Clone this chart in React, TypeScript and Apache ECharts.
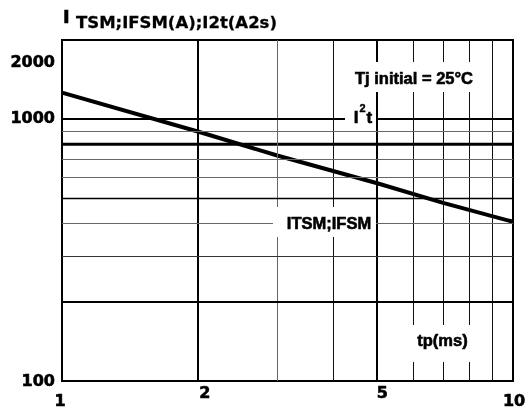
import React, { useEffect, useRef } from "react";
import * as echarts from "echarts";

// ---- data ----
const tpValues = [1, 2, 3, 5, 7, 10];
const itsmValues = [1260, 895, 725, 568, 478, 405];
const i2tTp = [1, 10];
const i2tValues = [800, 800];
const xTickLabels = [1, 2, 5, 10];
const yTickLabels = [100, 1000, 2000];
const xGridValues = [2, 3, 4, 5, 6, 7, 8, 9];
const yGridValues = [200, 300, 400, 500, 600, 700, 900, 1000];
const xMin = 1;
const xMax = 10;
const yMin = 100;
const yMax = 2000;

const NUM_FONT = 'bold 16px "DejaVu Sans"';
const LBL_FONT = 'bold 16.5px "Liberation Sans"';

function vLineStyle(v: number) {
  if (v === 2 || v === 5) return { color: "#000", width: 2, type: "solid" };
  if (v === 3) return { color: "#666", width: 1, type: "solid" };
  return { color: "#111", width: 1, type: "solid" };
}
function hLineStyle(v: number) {
  if (v === 200 || v === 1000) return { color: "#000", width: 2, type: "solid" };
  if (v === 500) return { color: "#000", width: 1.3, type: "solid" };
  if (v === 300) return { color: "#333", width: 1, type: "solid" };
  return { color: "#666", width: 1, type: "solid" };
}

// label offsets (layout only)
const xLabelOffset: Record<number, [number, number]> = {
  1: [-2, 19],
  2: [7, 11],
  5: [5, 11],
  10: [1, 19],
};
const yLabelOffset: Record<number, number> = { 100: -1, 1000: -1, 2000: 21 };

const heavy = { fill: "#000", stroke: "#000", lineWidth: 0.6 };

export default function App() {
  const ref = useRef<HTMLDivElement>(null);
  useEffect(() => {
    const chart = echarts.init(ref.current!, null, { renderer: "svg" });
    const hiddenAxis = {
      axisLine: { show: false },
      axisTick: { show: false },
      axisLabel: { show: false },
      splitLine: { show: false },
    };
    chart.setOption({
      animation: false,
      grid: {
        left: 62,
        right: 14,
        top: 40,
        bottom: 32,
        show: true,
        borderColor: "#000",
        borderWidth: 2,
        backgroundColor: "transparent",
        z: 5,
      },
      xAxis: { type: "log", logBase: 10, min: xMin, max: xMax, ...hiddenAxis },
      yAxis: { type: "log", logBase: 10, min: yMin, max: yMax, ...hiddenAxis },
      series: [
        {
          type: "line",
          name: "grid",
          data: [
            [xMin, yMin],
            [xMax, yMin],
          ],
          showSymbol: false,
          lineStyle: { width: 0, opacity: 0 },
          silent: true,
          z: 1,
          markLine: {
            silent: true,
            symbol: ["none", "none"],
            label: { show: false },
            animation: false,
            data: [
              ...xGridValues.map((v) => ({ xAxis: v, lineStyle: vLineStyle(v) })),
              ...yGridValues.map((v) => ({ yAxis: v, lineStyle: hLineStyle(v) })),
            ],
          },
        },
        {
          type: "line",
          name: "I2t",
          data: i2tTp.map((t, i) => [t, i2tValues[i]]),
          showSymbol: false,
          lineStyle: { color: "#000", width: 3 },
          z: 3,
        },
        {
          type: "line",
          name: "ITSM;IFSM",
          data: tpValues.map((t, i) => [t, itsmValues[i]]),
          showSymbol: false,
          lineStyle: { color: "#000", width: 4 },
          z: 4,
        },
      ],
    });

    const toPx = (x: number, y: number) =>
      chart.convertToPixel({ gridIndex: 0 } as any, [x, y]) as number[];

    const graphics: any[] = [];
    xTickLabels.forEach((v) => {
      const p = toPx(v, yMin);
      const [dx, dy] = xLabelOffset[v] || [0, 15];
      graphics.push({
        type: "text",
        x: p[0] + dx,
        y: p[1] + dy,
        style: { text: String(v), font: NUM_FONT, ...heavy, align: "center", verticalAlign: "middle" },
      });
    });
    yTickLabels.forEach((v) => {
      const p = toPx(xMin, v);
      graphics.push({
        type: "text",
        x: p[0] - 7,
        y: p[1] + (yLabelOffset[v] || 0),
        style: { text: String(v), font: NUM_FONT, ...heavy, align: "right", verticalAlign: "middle" },
      });
    });
    // title
    graphics.push({
      type: "text",
      x: 63,
      y: 16.5,
      style: { text: "I", font: 'bold 18px "DejaVu Sans"', ...heavy, align: "left", verticalAlign: "middle" },
    });
    graphics.push({
      type: "text",
      x: 76,
      y: 22.5,
      style: {
        text: "TSM;IFSM(A);I2t(A2s)",
        font: 'bold 16.5px "DejaVu Sans"',
        ...heavy,
        lineWidth: 0.3,
        align: "left",
        verticalAlign: "middle",
      },
    });
    // annotation boxes + texts
    const boxes = [
      { x: 340, y: 62, w: 140, h: 30 },
      { x: 345, y: 104, w: 31, h: 24 },
      { x: 273, y: 207, w: 103, h: 30 },
      { x: 400, y: 325, w: 85, h: 37 },
    ];
    boxes.forEach((b) =>
      graphics.push({
        type: "rect",
        shape: { x: b.x, y: b.y, width: b.w, height: b.h },
        style: { fill: "#fff" },
        z: 10,
        silent: true,
      })
    );
    const notes = [
      { text: "Tj initial = 25°C", x: 414, y: 77.5 },
      { text: "ITSM;IFSM", x: 329, y: 223 },
      { text: "tp(ms)", x: 442.5, y: 340 },
    ];
    notes.forEach((n) =>
      graphics.push({
        type: "text",
        x: n.x,
        y: n.y,
        z: 11,
        style: { text: n.text, font: LBL_FONT, ...heavy, align: "center", verticalAlign: "middle" },
      })
    );
    // I²t label with raised exponent
    graphics.push({
      type: "text",
      x: 363,
      y: 114,
      z: 11,
      style: {
        text: "{b|I}{s|2}{b|t}",
        align: "center",
        verticalAlign: "middle",
        rich: {
          b: { font: 'bold 17px "Liberation Sans"', fill: "#000", stroke: "#000", lineWidth: 0.6, lineHeight: 24, verticalAlign: "bottom" },
          s: { font: 'bold 11px "Liberation Sans"', fill: "#000", stroke: "#000", lineWidth: 0.4, lineHeight: 12, verticalAlign: "top", padding: [0, 1, 0, 1] },
        },
      },
    });
    chart.setOption({ graphic: graphics });

    return () => chart.dispose();
  }, []);
  return (
    <div
      ref={ref}
      style={{ position: "fixed", left: 0, top: 0, width: 527, height: 413 }}
    />
  );
}
